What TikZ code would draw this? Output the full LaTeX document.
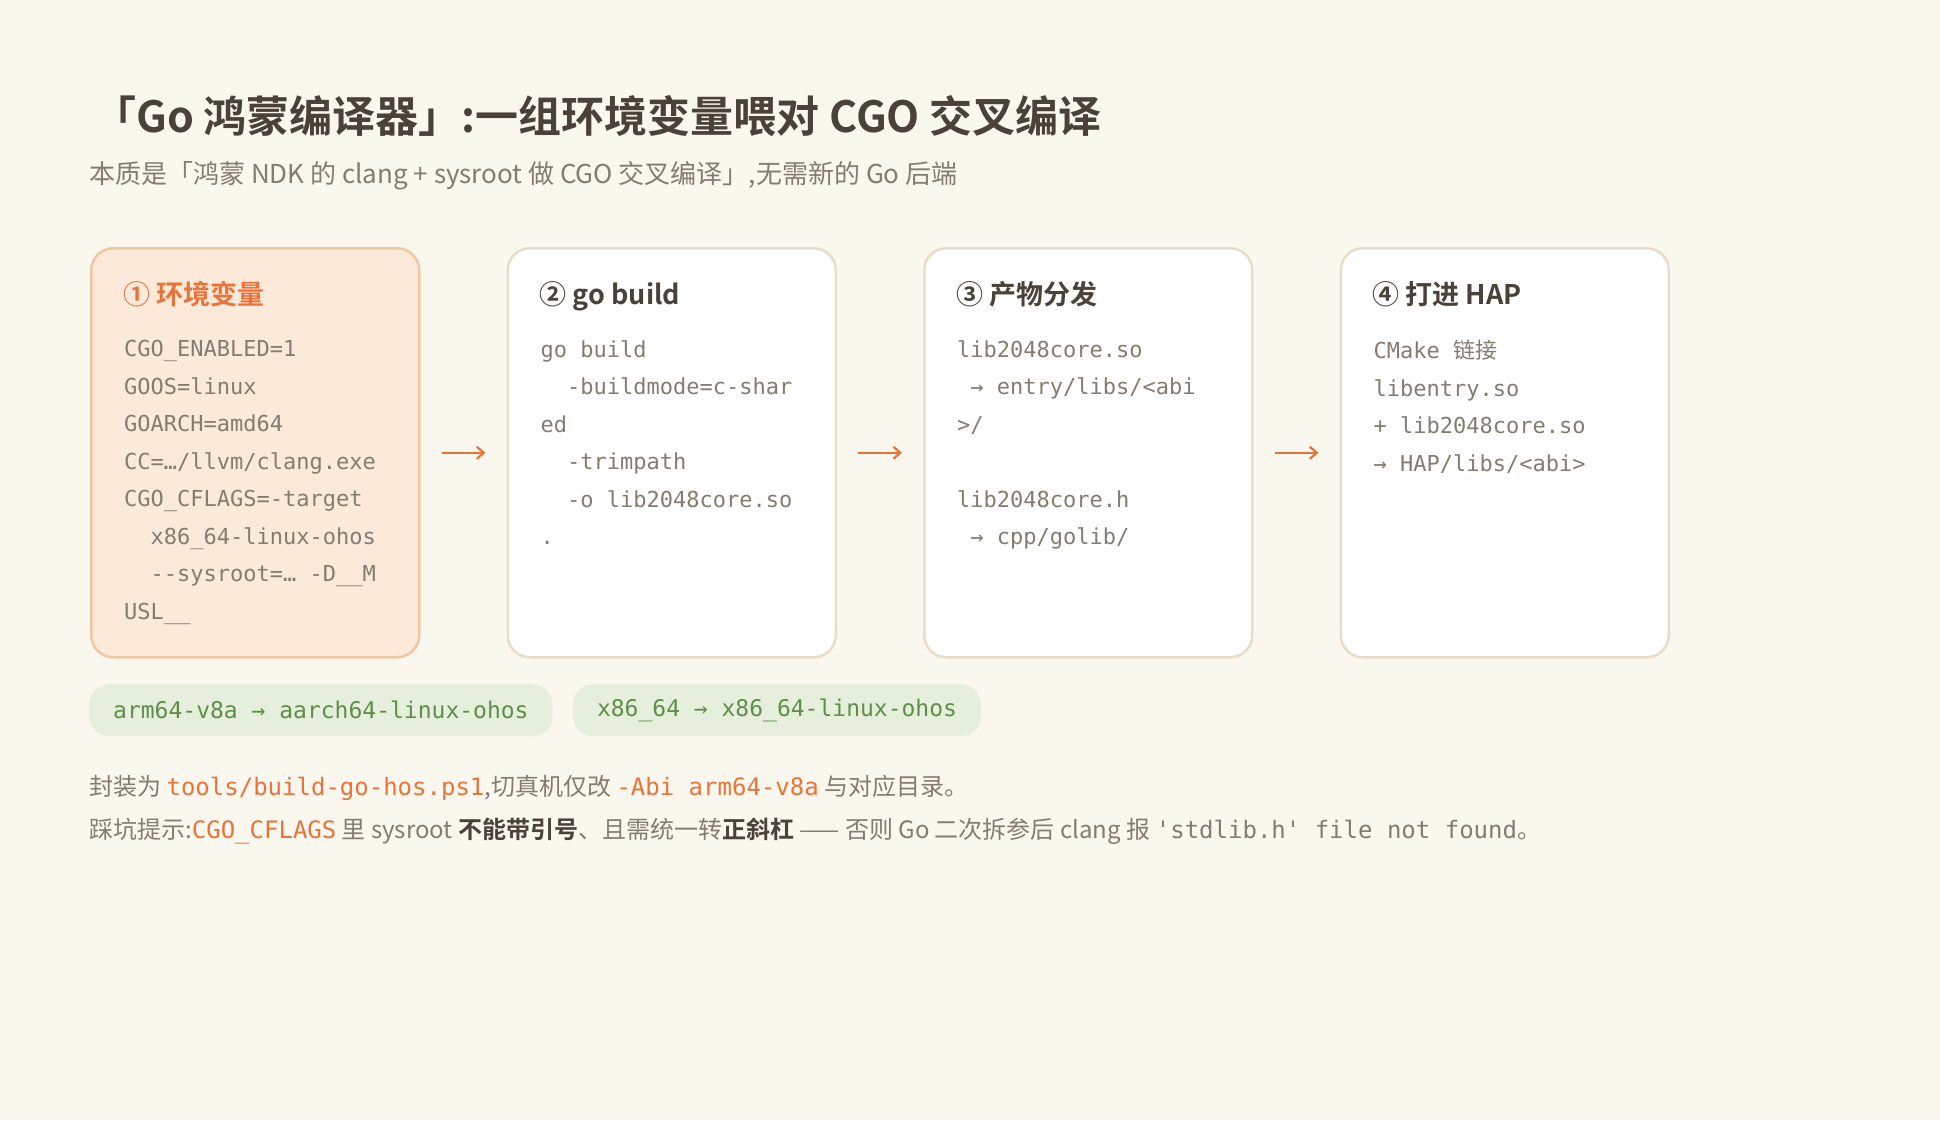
\documentclass[tikz,border=0pt]{standalone}
\usepackage{fontspec}
\setmainfont{Noto Sans CJK SC}[BoldFont={Noto Sans CJK SC Bold}]
\setmonofont{DejaVu Sans Mono}
\usepackage{xcolor}
\usetikzlibrary{positioning}
\usetikzlibrary{arrows.meta}
\definecolor{pagebg}{HTML}{FAF7EF}
\definecolor{boxline}{HTML}{E9DCC8}
\definecolor{hotfill}{HTML}{FBE9D9}
\definecolor{hotline}{HTML}{F0C8A0}
\definecolor{accent}{HTML}{E8743B}
\definecolor{inktext}{HTML}{4A4238}
\definecolor{softtext}{HTML}{857C70}
\definecolor{pillfill}{HTML}{E6EFDC}
\definecolor{pilltext}{HTML}{5E8F4A}
\begin{document}
\begin{tikzpicture}[x=1pt,y=-1pt,
      stage style/.style={rectangle,rounded corners=22pt,draw=boxline,line width=2.5pt,
        fill=white,minimum width=328pt,minimum height=409pt,inner sep=0pt},
      hot style/.style={stage style,draw=hotline,fill=hotfill},
      head style/.style={anchor=base west,inner sep=0pt,font=\fontsize{27}{30}\selectfont\bfseries,text=inktext},
      code style/.style={anchor=north west,inner sep=0pt,align=left,text=softtext,
        font=\fontsize{22}{37.5}\ttfamily},
      pill style/.style={rectangle,rounded corners=20pt,fill=pillfill,text=pilltext,
        minimum height=52pt,inner xsep=24pt,font=\fontsize{23}{26}\ttfamily},
      flow/.style={draw=accent,line width=2.2pt,-{Straight Barb[length=7pt,width=12pt]},
        shorten <=21pt,shorten >=21pt}
      ]
      \useasboundingbox[fill=pagebg] (0,0) rectangle (1940,1120);

      \node[anchor=base west,inner sep=0pt,text=inktext,font=\fontsize{43}{48}\selectfont\bfseries]
        (title) at (93,132) {「Go 鸿蒙编译器」:一组环境变量喂对 CGO 交叉编译};
      \node[anchor=base west,inner sep=0pt,text=softtext,font=\fontsize{26}{30}\selectfont]
        (subtitle) at (89,183) {本质是「鸿蒙 NDK 的 clang + sysroot 做 CGO 交叉编译」,无需新的 Go 后端};

      \node[hot style,anchor=north west] (env) at (90,247) {};
      \node[stage style,right=86pt of env] (build) {};
      \node[stage style,right=86pt of build] (dist) {};
      \node[stage style,right=86pt of dist] (hap) {};

      \draw[flow] (env) -- (build);
      \draw[flow] (build) -- (dist);
      \draw[flow] (dist) -- (hap);

      \node[head style,text=accent] (envhead) at ([shift={(33,57)}]env.north west) {① 环境变量};
      \node[head style] (buildhead) at ([shift={(33,57)}]build.north west) {② go build};
      \node[head style] (disthead) at ([shift={(33,57)}]dist.north west) {③ 产物分发};
      \node[head style] (haphead) at ([shift={(33,57)}]hap.north west) {④ 打进 HAP};

      \node[code style] (envcode) at ([shift={(34,93)}]env.north west)
        {CGO\_ENABLED=1\\GOOS=linux\\GOARCH=amd64\\CC=…/llvm/clang.exe\\CGO\_CFLAGS=-target\\
         \ \ x86\_64-linux-ohos\\\ \ -{}-sysroot=… -D\_\_M\\USL\_\_};
      \node[code style] (buildcode) at ([shift={(34,93)}]build.north west)
        {go build\\\ \ -buildmode=c-shar\\ed\\\ \ -trimpath\\\ \ -o lib2048core.so\\.};
      \node[code style] (distcode) at ([shift={(34,93)}]dist.north west)
        {lib2048core.so\\\ → entry/libs/<abi\\>/\\\mbox{}\\lib2048core.h\\\ → cpp/golib/};
      \node[code style] (hapcode) at ([shift={(34,93)}]hap.north west)
        {CMake {\rmfamily 链接}\\libentry.so\\+ lib2048core.so\\→ HAP/libs/<abi>};

      \node[pill style,anchor=north west] (armpill) at (89,684) {arm64-v8a → aarch64-linux-ohos};
      \node[pill style,right=20pt of armpill] (x86pill) {x86\_64 → x86\_64-linux-ohos};

      \node[anchor=base west,inner sep=0pt,text=softtext,font=\fontsize{24}{28}\selectfont]
        (wrapnote) at (89,795) {封装为 \textcolor{accent}{\fontsize{24}{28}\ttfamily tools/build-go-hos.ps1},切真机仅改 \textcolor{accent}{\fontsize{24}{28}\ttfamily -Abi arm64-v8a} 与对应目录。};
      \node[anchor=base west,inner sep=0pt,text=softtext,font=\fontsize{24}{28}\selectfont]
        (pitnote) at (89,838) {踩坑提示:\textcolor{accent}{\ttfamily CGO\_CFLAGS} 里 sysroot \textcolor{inktext}{\bfseries 不能带引号}、且需统一转\textcolor{inktext}{\bfseries 正斜杠} —— 否则 Go 二次拆参后 clang 报 {\ttfamily 'stdlib.h' file not found}。};
    \end{tikzpicture}
\end{document}
